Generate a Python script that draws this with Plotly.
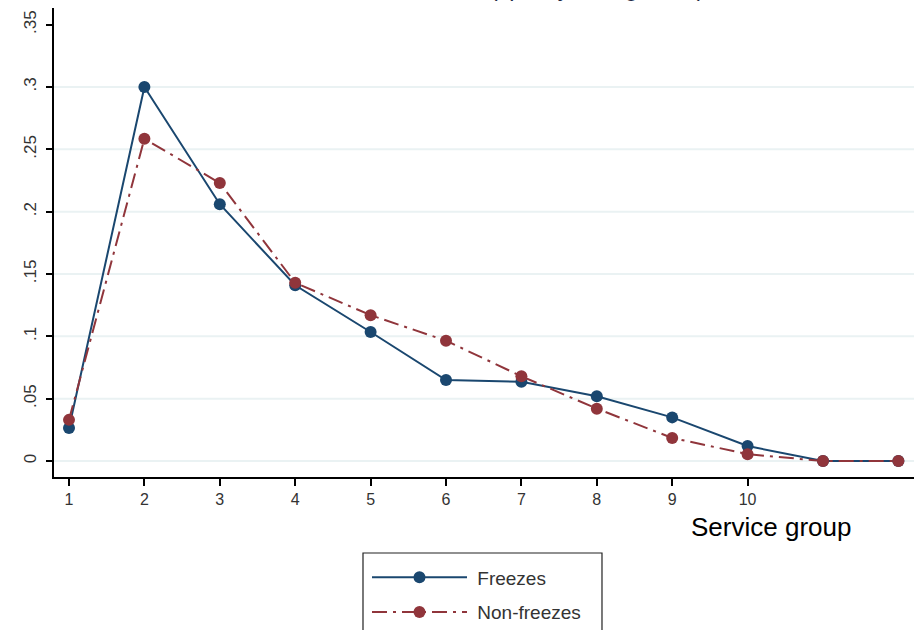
import plotly.graph_objects as go

# Share of observations in each service group
service_group = [1, 2, 3, 4, 5, 6, 7, 8, 9, 10, 11, 12]
freezes = [0.0265, 0.300, 0.206, 0.141, 0.1035, 0.065, 0.0635, 0.052, 0.035, 0.012, 0.0, 0.0]
non_freezes = [0.033, 0.2585, 0.223, 0.143, 0.117, 0.0965, 0.068, 0.042, 0.0185, 0.0055, 0.0, 0.0]

x_ticks = [1, 2, 3, 4, 5, 6, 7, 8, 9, 10]
y_ticks = [0, 0.05, 0.10, 0.15, 0.20, 0.25, 0.30, 0.35]
y_tick_text = ["0", ".05", ".1", ".15", ".2", ".25", ".3", ".35"]
grid_vals = [0, 0.05, 0.10, 0.15, 0.20, 0.25, 0.30]

NAVY = "#1a476f"
MAROON = "#90353b"
FONT = "Arial, Liberation Sans, sans-serif"

fig = go.Figure()
fig.add_trace(go.Scatter(
    x=service_group, y=freezes, name="\u00a0Freezes", mode="lines+markers",
    line=dict(color=NAVY, width=2), marker=dict(color=NAVY, size=12),
    legendgroup="a", cliponaxis=False,
))
fig.add_trace(go.Scatter(
    x=service_group, y=non_freezes, name="\u00a0Non-freezes", mode="lines+markers",
    line=dict(color=MAROON, width=2, dash="longdashdot"),
    marker=dict(color=MAROON, size=12),
    legendgroup="b", cliponaxis=False,
))

# horizontal grid (no line at the top tick)
for g in grid_vals:
    fig.add_shape(type="line", xref="paper", x0=0, x1=1, yref="y", y0=g, y1=g,
                  line=dict(color="#eaf2f3", width=2), layer="below")

# legend frame
fig.add_shape(type="rect", xref="paper", yref="paper",
              x0=0.3593, x1=0.6372, y0=-0.162, y1=-0.36,
              line=dict(color="#222222", width=1.2), fillcolor="rgba(0,0,0,0)")

fig.add_annotation(text="Service group", xref="paper", yref="paper",
                   x=0.834, y=-0.1066, xanchor="center", yanchor="middle",
                   showarrow=False, font=dict(family=FONT, size=26, color="#000000"))

fig.add_annotation(text="(split by staff gender)", xref="paper", yref="paper",
                   x=(488 - 54) / 860, y=(477 - 3) / 469, xanchor="left", yanchor="bottom",
                   showarrow=False, font=dict(family=FONT, size=23, color="#1e2a44"))

fig.update_layout(
    width=916, height=630,
    margin=dict(l=54, r=2, t=8, b=153, autoexpand=False),
    paper_bgcolor="white", plot_bgcolor="white",
    font=dict(family=FONT, color="#333333"),
    showlegend=True,
    legend=dict(
        x=(367 - 54) / 860, y=-0.1735, xanchor="left", yanchor="top",
        xref="paper", yref="paper",
        bgcolor="rgba(0,0,0,0)", borderwidth=0,
        font=dict(family=FONT, size=19, color="#333333"),
        traceorder="grouped", tracegroupgap=7, itemwidth=95,
    ),
    xaxis=dict(
        range=[0.801, 12.207], tickmode="array", tickvals=x_ticks,
        showgrid=False, zeroline=False, showline=True, linecolor="#000000", linewidth=1.5,
        ticks="outside", ticklen=7, tickwidth=1.5, tickcolor="#000000",
        tickfont=dict(family=FONT, size=16, color="#333333"),
    ),
    yaxis=dict(
        range=[-0.01283, 0.3634], tickmode="array", tickvals=y_ticks, ticktext=y_tick_text,
        tickangle=-90, ticklabelstandoff=3,
        showgrid=False, zeroline=False, showline=True, linecolor="#000000", linewidth=1.5,
        ticks="outside", ticklen=6, tickwidth=1.5, tickcolor="#000000",
        tickfont=dict(family=FONT, size=17, color="#333333"),
    ),
)

fig.write_html("out.html")
